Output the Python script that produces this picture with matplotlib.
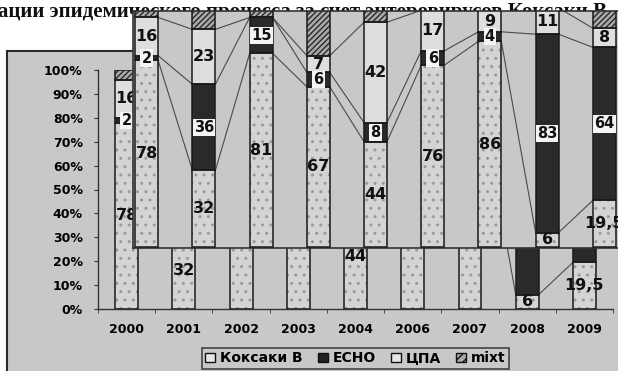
import matplotlib.pyplot as plt
import numpy as np
from matplotlib.patches import Rectangle, Patch

# data (shares, %)
years = ['2000', '2001', '2002', '2003', '2004', '2006', '2007', '2008', '2009']
coxsackie_b = [78, 32, 81, 67, 44, 76, 86, 6, 19.5]
echo = [2, 36, 15, 6, 8, 6, 4, 83, 64]
cpa = [16, 23, 0, 7, 42, 17, 9, 11, 8]
mixt = [4, 9, 4, 20, 6, 1, 1, 0, 8.5]
series_names = ['Коксаки В', 'ECHO', 'ЦПА', 'mixt']
title = 'ации эпидемического процесса за счет энтеровирусов Коксаки В'

W, H = 618, 371
BG = '#c8c8c8'
bar_w = 0.40

plt.rcParams['font.family'] = 'DejaVu Sans'
plt.rcParams['hatch.linewidth'] = 1.0


def fmt(v):
    return ('%g' % v).replace('.', ',')


def draw_chart(ax):
    x = np.arange(len(years))
    data = [np.array(coxsackie_b, float), np.array(echo, float),
            np.array(cpa, float), np.array(mixt, float)]
    bottoms = np.zeros(len(years))
    tops = []
    # fill, hatch, hatch colour
    styles = [('#d4d4d4', '..', '#9a9a9a'),
              ('#2a2a2a', None, '#2a2a2a'),
              ('#dedede', None, '#dedede'),
              ('#aaaaaa', '//////', '#2a2a2a')]
    for vals, (fc, hatch, hc) in zip(data, styles):
        ax.bar(x, vals, bar_w, bottom=bottoms, color=fc, hatch=hatch,
               edgecolor=hc, linewidth=0, zorder=2)
        ax.bar(x, vals, bar_w, bottom=bottoms, fill=False,
               edgecolor='#1a1a1a', linewidth=1.1, zorder=3)
        bottoms = bottoms + vals
        tops.append(bottoms.copy())

    # series lines between neighbouring bars
    for t in tops:
        for i in range(len(years) - 1):
            ax.plot([i + bar_w / 2, i + 1 - bar_w / 2], [t[i], t[i + 1]],
                    color='#4a4a4a', lw=0.8, zorder=1.5)

    # data labels
    base = np.zeros(len(years))
    for k, vals in enumerate(data[:3]):
        for i, v in enumerate(vals):
            if v <= 0:
                continue
            y = base[i] + v / 2
            if k == 1:
                ax.text(i, y, fmt(v), ha='center', va='center', fontsize=10.5,
                        fontweight='bold', color='#111', zorder=5,
                        bbox=dict(boxstyle='square,pad=0.08', fc='#f4f4f4', ec='none'))
            else:
                ax.text(i, y, fmt(v), ha='center', va='center', fontsize=11.5,
                        fontweight='bold', color='#111', zorder=5)
        base = base + vals


fig = plt.figure(figsize=(W / 100, H / 100), dpi=100)

# chart area and heading
fig.add_artist(Rectangle((7 / W, -0.05), 1.0, (H - 51) / H + 0.05,
                         transform=fig.transFigure, fc=BG, ec='#2a2a2a',
                         lw=1.5, zorder=-2))
fig.text(-0.003, (H - 17) / H, title, family='Liberation Serif',
         fontsize=15, fontweight='bold', ha='left', va='baseline',
         color='#111', zorder=-1)

# main chart
ax = fig.add_axes([98 / W, (H - 309) / H, 515 / W, 239 / H])
ax.set_facecolor('none')
draw_chart(ax)
ax.set_xlim(-0.5, 8.5)
ax.set_ylim(0, 100)
ax.set_yticks(np.arange(0, 101, 10))
ax.set_yticklabels(['%d%%' % v for v in range(0, 101, 10)],
                   fontsize=9, fontweight='bold')
ax.set_xticks(np.arange(len(years)))
ax.set_xticklabels(years, fontsize=9, fontweight='bold')
ax.set_xticks(np.arange(-0.5, 9, 1), minor=True)
ax.tick_params(axis='x', which='major', length=0, pad=10)
ax.tick_params(axis='x', which='minor', length=3, color='#333')
ax.tick_params(axis='y', length=3, pad=8, color='#333')
for s in ['top', 'right']:
    ax.spines[s].set_visible(False)
for s in ['left', 'bottom']:
    ax.spines[s].set_color('#333')
    ax.spines[s].set_linewidth(1)

# enlarged copy pasted over the chart
ins = fig.add_axes([133 / W, (H - 248) / H, 485 / W, 237 / H])
ins.set_zorder(1)
ins.set_facecolor(BG)
draw_chart(ins)
ins.set_xlim(-0.24, 8.24)
ins.set_ylim(-0.42, 98.7)
ins.set_xticks([])
ins.set_yticks([])
ins.spines['right'].set_visible(False)
for s in ['left', 'bottom', 'top']:
    ins.spines[s].set_color('#333')
    ins.spines[s].set_linewidth(1.2)

# legend
handles = [Patch(fc='#e6e6e6', ec='#111', lw=1),
           Patch(fc='#222222', ec='#111', lw=1),
           Patch(fc='#e6e6e6', ec='#111', lw=1),
           Patch(fc='#aaaaaa', ec='#111', lw=1, hatch='////')]
leg = fig.legend(handles, series_names, loc='upper left',
                 bbox_to_anchor=(202 / W, (H - 348) / H), ncol=4,
                 prop=dict(size=10, weight='bold'), frameon=True,
                 fancybox=False, edgecolor='#222', facecolor=BG,
                 handlelength=0.7, handleheight=0.7, handletextpad=0.35,
                 columnspacing=1.1, borderpad=0.25, borderaxespad=0)
leg.get_frame().set_linewidth(1.2)

fig.savefig('out.png', dpi=100)
